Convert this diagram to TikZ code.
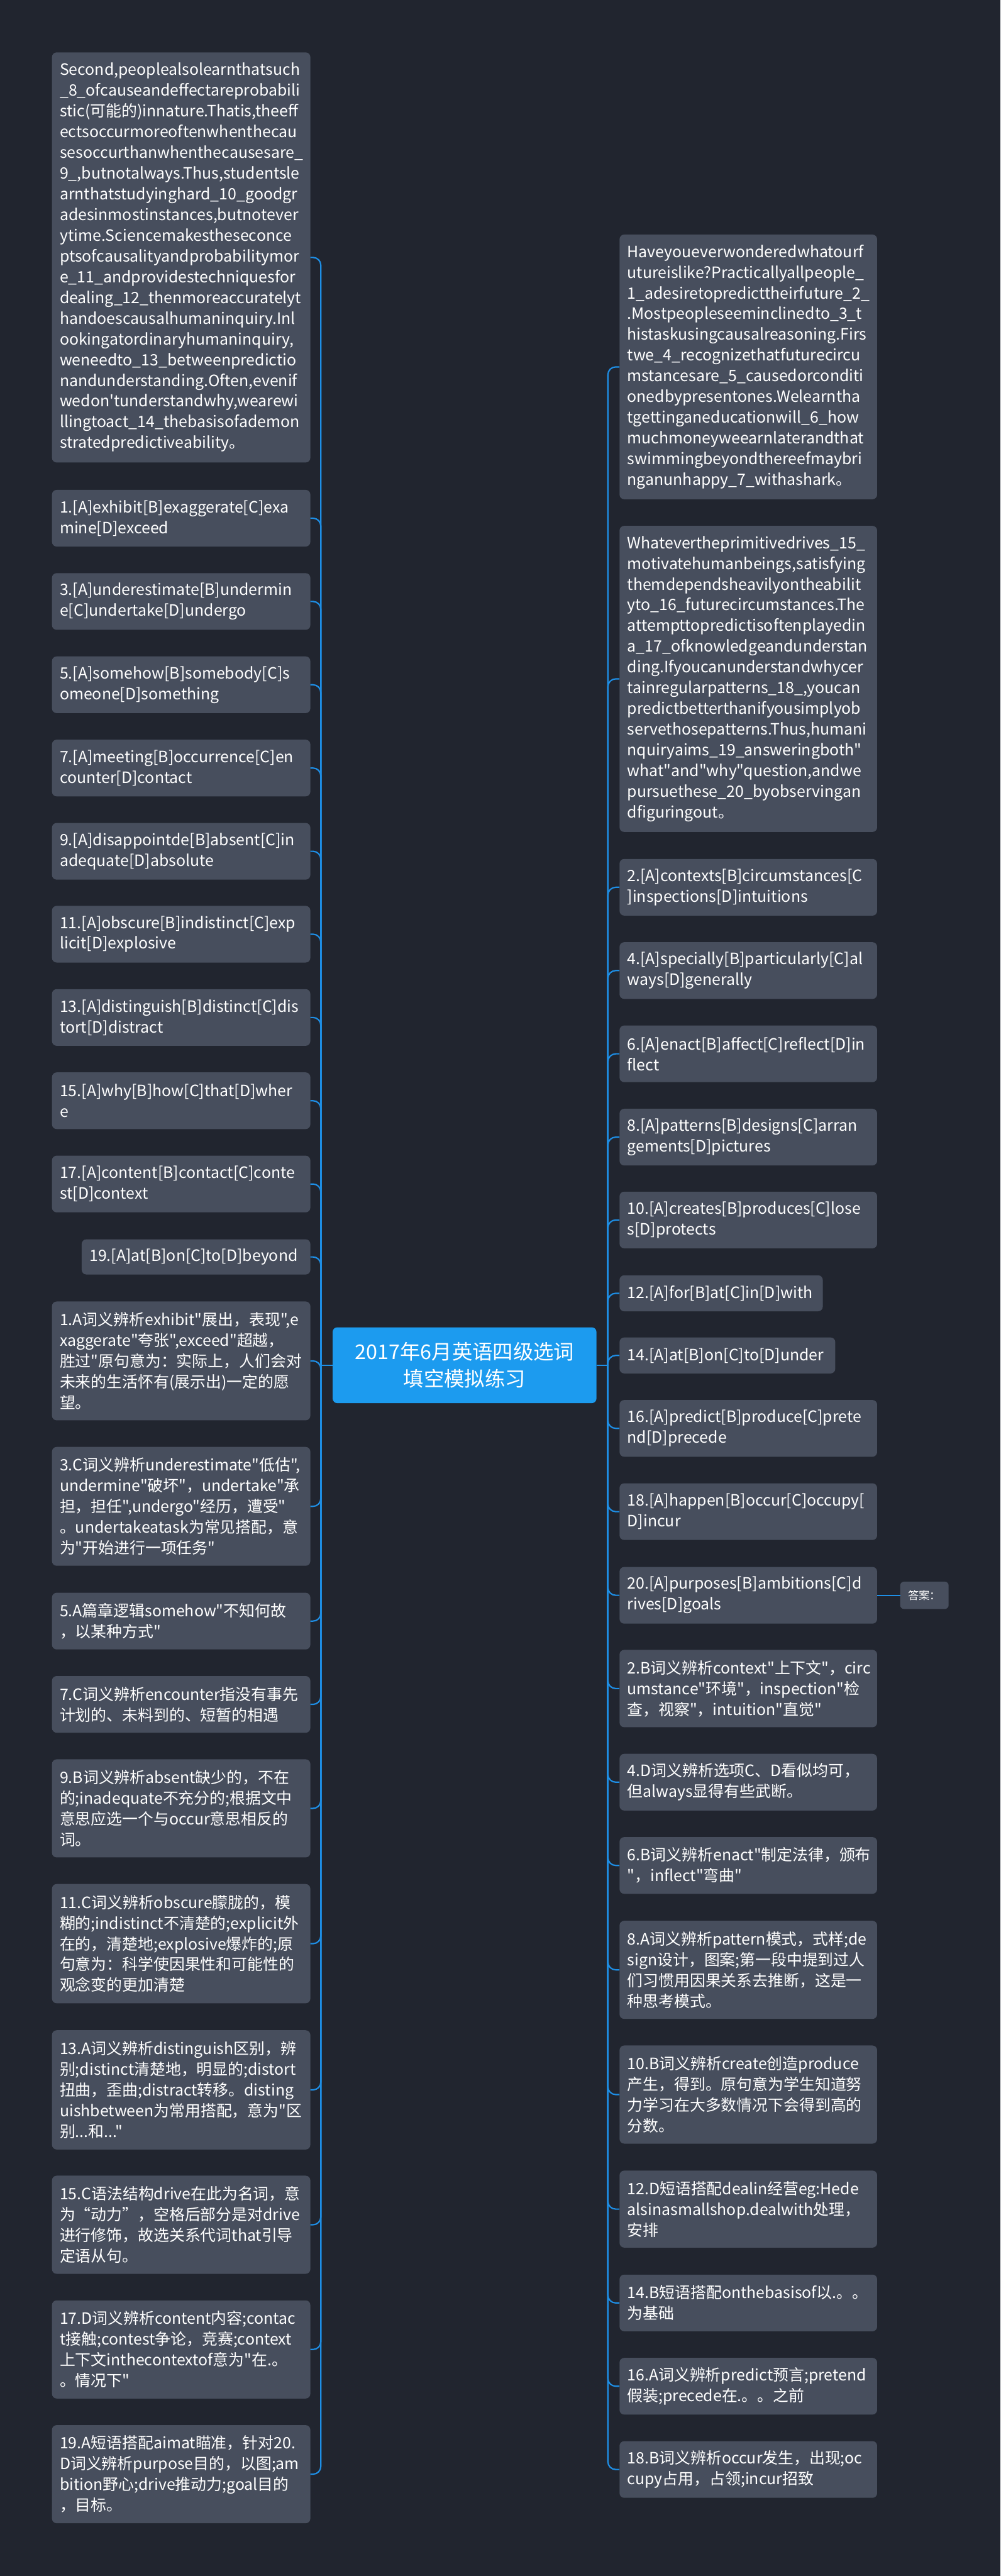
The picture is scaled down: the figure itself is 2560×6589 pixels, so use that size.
\documentclass[tikz,border=0pt]{standalone}
\usepackage{fontspec}
\setmainfont{Noto Sans CJK SC}
\newfontfamily\mapfont{Noto Sans CJK SC}
\hyphenpenalty=10000
\exhyphenpenalty=10000

\definecolor{bgdark}{HTML}{21252F}
\definecolor{boxgray}{HTML}{474E5D}
\definecolor{rootblue}{HTML}{1C9BEF}
\definecolor{linkblue}{HTML}{1E8FE6}

\begin{document}
\begin{tikzpicture}[
    x=1pt, y=-1pt,
    root/.style={
        fill=rootblue,
        rounded corners=12pt,
        text=white,
        align=center,
        minimum width=675pt,
        minimum height=194pt,
        font=\mapfont\fontsize{52}{70}\selectfont
    },
    leaf/.style={
        fill=boxgray,
        rounded corners=12pt,
        text=white,
        align=left,
        inner xsep=20pt,
        inner ysep=0pt,
        font=\mapfont\fontsize{40}{53}\selectfont
    },
    lleaf/.style={leaf, text width=621pt},
    rleaf/.style={leaf, text width=619pt},
    tag/.style={
        fill=boxgray,
        rounded corners=10pt,
        text=white,
        inner sep=0pt,
        minimum width=124pt,
        minimum height=70pt,
        font=\mapfont\fontsize{28}{34}\selectfont
    },
    link/.style={draw=linkblue, line width=3.5pt, rounded corners=20pt}
]

% background
\fill[bgdark] (0,0) rectangle (2560,6589);

% Root
\node[root] (root) at (1188.5,3492) {2017年6月英语四级选词\\填空模拟练习};

% Left branch: passage, options, answers
\node[lleaf, minimum height=1049pt] (lpara) at (463.5,658.5) {Second,peoplealsolearnthatsuch\\
\_8\_ofcauseandeffectareprobabili\\
stic(可能的)innature.Thatis,theeff\\
ectsoccurmoreoftenwhenthecau\\
sesoccurthanwhenthecausesare\_\\
9\_,butnotalways.Thus,studentsle\\
arnthatstudyinghard\_10\_goodgr\\
adesinmostinstances,butnotever\\
ytime.Sciencemakestheseconce\\
ptsofcausalityandprobabilitymor\\
e\_11\_andprovidestechniquesfor\\
dealing\_12\_thenmoreaccuratelyt\\
handoescausalhumaninquiry.Inl\\
ookingatordinaryhumaninquiry,\\
weneedto\_13\_betweenpredictio\\
nandunderstanding.Often,evenif\\
wedon'tunderstandwhy,wearewi\\
llingtoact\_14\_thebasisofademon\\
stratedpredictiveability。};

\node[lleaf, minimum height=145pt] (lq1) at (463.5,1325.5) {1.[A]exhibit[B]exaggerate[C]exa\\mine[D]exceed};
\node[lleaf, minimum height=145pt] (lq3) at (463.5,1538.5) {3.[A]underestimate[B]undermin\\e[C]undertake[D]undergo};
\node[lleaf, minimum height=145pt] (lq5) at (463.5,1751.5) {5.[A]somehow[B]somebody[C]s\\omeone[D]something};
\node[lleaf, minimum height=145pt] (lq7) at (463.5,1964.5) {7.[A]meeting[B]occurrence[C]en\\counter[D]contact};
\node[lleaf, minimum height=145pt] (lq9) at (463.5,2177.5) {9.[A]disappointde[B]absent[C]in\\adequate[D]absolute};
\node[lleaf, minimum height=145pt] (lq11) at (463.5,2389.5) {11.[A]obscure[B]indistinct[C]exp\\licit[D]explosive};
\node[lleaf, minimum height=145pt] (lq13) at (463.5,2602.5) {13.[A]distinguish[B]distinct[C]dis\\tort[D]distract};
\node[lleaf, minimum height=145pt] (lq15) at (463.5,2815.5) {15.[A]why[B]how[C]that[D]wher\\e};
\node[lleaf, minimum height=145pt] (lq17) at (463.5,3028.5) {17.[A]content[B]contact[C]conte\\st[D]context};
\node[leaf, text width=545pt, minimum height=90pt] (lq19) at (501.5,3215) {19.[A]at[B]on[C]to[D]beyond};

\node[lleaf, minimum height=304pt] (la1) at (463.5,3481) {1.A词义辨析exhibit"展出，表现",e\\
xaggerate"夸张",exceed"超越，\\
胜过"原句意为：实际上，人们会对\\
未来的生活怀有(展示出)一定的愿\\
望。};
\node[lleaf, minimum height=304pt] (la3) at (463.5,3853) {3.C词义辨析underestimate"低估",\\
undermine"破坏"，undertake"承\\
担，担任",undergo"经历，遭受"\\
。undertakeatask为常见搭配，意\\
为"开始进行一项任务"};
\node[lleaf, minimum height=145pt] (la5) at (463.5,4146.5) {5.A篇章逻辑somehow"不知何故\\
，以某种方式"};
\node[lleaf, minimum height=145pt] (la7) at (463.5,4359.5) {7.C词义辨析encounter指没有事先\\
计划的、未料到的、短暂的相遇};
\node[lleaf, minimum height=251pt] (la9) at (463.5,4625.5) {9.B词义辨析absent缺少的，不在\\
的;inadequate不充分的;根据文中\\
意思应选一个与occur意思相反的\\
词。};
\node[lleaf, minimum height=305pt] (la11) at (463.5,4971.5) {11.C词义辨析obscure朦胧的，模\\
糊的;indistinct不清楚的;explicit外\\
在的，清楚地;explosive爆炸的;原\\
句意为：科学使因果性和可能性的\\
观念变的更加清楚};
\node[lleaf, minimum height=305pt] (la13) at (463.5,5345.5) {13.A词义辨析distinguish区别，辨\\
别;distinct清楚地，明显的;distort\\
扭曲，歪曲;distract转移。disting\\
uishbetween为常用搭配，意为"区\\
别...和..."};
\node[lleaf, minimum height=251pt] (la15) at (463.5,5690.5) {15.C语法结构drive在此为名词，意\\
为“动力”，空格后部分是对drive\\
进行修饰，故选关系代词that引导\\
定语从句。};
\node[lleaf, minimum height=251pt] (la17) at (463.5,6009.5) {17.D词义辨析content内容;contac\\
t接触;contest争论，竞赛;context\\
上下文inthecontextof意为"在.。\\
。情况下"};
\node[lleaf, minimum height=251pt] (la19) at (463.5,6328.5) {19.A短语搭配aimat瞄准，针对20.\\
D词义辨析purpose目的，以图;am\\
bition野心;drive推动力;goal目的\\
，目标。};

% Right branch: passage, options, answers
\node[rleaf, minimum height=677pt] (rpara1) at (1914.5,938.5) {Haveyoueverwonderedwhatourf\\
utureislike?Practicallyallpeople\_\\
1\_adesiretopredicttheirfuture\_2\_\\
.Mostpeopleseeminclinedto\_3\_t\\
histaskusingcausalreasoning.Firs\\
twe\_4\_recognizethatfuturecircu\\
mstancesare\_5\_causedorconditi\\
onedbypresentones.Welearntha\\
tgettinganeducationwill\_6\_how\\
muchmoneyweearnlaterandthat\\
swimmingbeyondthereefmaybri\\
nganunhappy\_7\_withashark。};
\node[rleaf, minimum height=783pt] (rpara2) at (1914.5,1736.5) {Whatevertheprimitivedrives\_15\_\\
motivatehumanbeings,satisfying\\
themdependsheavilyontheabilit\\
yto\_16\_futurecircumstances.The\\
attempttopredictisoftenplayedin\\
a\_17\_ofknowledgeandunderstan\\
ding.Ifyoucanunderstandwhycer\\
tainregularpatterns\_18\_,youcan\\
predictbetterthanifyousimplyob\\
servethosepatterns.Thus,humani\\
nquiryaims\_19\_answeringboth"\\
what"and"why"question,andwe\\
pursuethese\_20\_byobservingan\\
dfiguringout。};

\node[rleaf, minimum height=145pt] (rq2) at (1914.5,2269.5) {2.[A]contexts[B]circumstances[C\\]inspections[D]intuitions};
\node[rleaf, minimum height=145pt] (rq4) at (1914.5,2482.5) {4.[A]specially[B]particularly[C]al\\ways[D]generally};
\node[rleaf, minimum height=145pt] (rq6) at (1914.5,2695.5) {6.[A]enact[B]affect[C]reflect[D]in\\flect};
\node[rleaf, minimum height=145pt] (rq8) at (1914.5,2908.5) {8.[A]patterns[B]designs[C]arran\\gements[D]pictures};
\node[rleaf, minimum height=145pt] (rq10) at (1914.5,3120.5) {10.[A]creates[B]produces[C]lose\\s[D]protects};
\node[leaf, text width=480pt, minimum height=92pt] (rq12) at (1845,3308) {12.[A]for[B]at[C]in[D]with};
\node[leaf, text width=512pt, minimum height=92pt] (rq14) at (1861,3467) {14.[A]at[B]on[C]to[D]under};
\node[rleaf, minimum height=145pt] (rq16) at (1914.5,3653.5) {16.[A]predict[B]produce[C]prete\\nd[D]precede};
\node[rleaf, minimum height=145pt] (rq18) at (1914.5,3866.5) {18.[A]happen[B]occur[C]occupy[\\D]incur};
\node[rleaf, minimum height=145pt] (rq20) at (1914.5,4080.5) {20.[A]purposes[B]ambitions[C]d\\rives[D]goals};
\node[tag] (ans) at (2365,4080.5) {答案：};

\node[rleaf, minimum height=198pt] (ra2) at (1914.5,4319) {2.B词义辨析context"上下文"，circ\\
umstance"环境"，inspection"检\\
查，视察"，intuition"直觉"};
\node[rleaf, minimum height=145pt] (ra4) at (1914.5,4558.5) {4.D词义辨析选项C、D看似均可，\\
但always显得有些武断。};
\node[rleaf, minimum height=145pt] (ra6) at (1914.5,4771.5) {6.B词义辨析enact"制定法律，颁布\\
"，inflect"弯曲"};
\node[rleaf, minimum height=251pt] (ra8) at (1914.5,5038.5) {8.A词义辨析pattern模式，式样;de\\
sign设计，图案;第一段中提到过人\\
们习惯用因果关系去推断，这是一\\
种思考模式。};
\node[rleaf, minimum height=251pt] (ra10) at (1914.5,5357.5) {10.B词义辨析create创造produce\\
产生，得到。原句意为学生知道努\\
力学习在大多数情况下会得到高的\\
分数。};
\node[rleaf, minimum height=197pt] (ra12) at (1914.5,5650.5) {12.D短语搭配dealin经营eg:Hede\\
alsinasmallshop.dealwith处理，\\
安排};
\node[rleaf, minimum height=145pt] (ra14) at (1914.5,5890.5) {14.B短语搭配onthebasisof以.。。\\
为基础};
\node[rleaf, minimum height=145pt] (ra16) at (1914.5,6103.5) {16.A词义辨析predict预言;pretend\\
假装;precede在.。。之前};
\node[rleaf, minimum height=145pt] (ra18) at (1914.5,6316.5) {18.B词义辨析occur发生，出现;oc\\
cupy占用，占领;incur招致};

% Connectors
\draw[link] (root.west) -- ++(-30,0) coordinate (lt);
\draw[link] (root.east) -- ++(29,0) coordinate (rt);

\foreach \n in {lpara,lq1,lq3,lq5,lq7,lq9,lq11,lq13,lq15,lq17,lq19,
                la1,la3,la5,la7,la9,la11,la13,la15,la17,la19}
    \draw[link] (lt) |- (\n.east);

\foreach \n in {rpara1,rpara2,rq2,rq4,rq6,rq8,rq10,rq12,rq14,rq16,rq18,rq20,
                ra2,ra4,ra6,ra8,ra10,ra12,ra14,ra16,ra18}
    \draw[link] (rt) |- (\n.west);

\draw[link] (rq20.east) -- (ans.west);

\end{tikzpicture}
\end{document}
